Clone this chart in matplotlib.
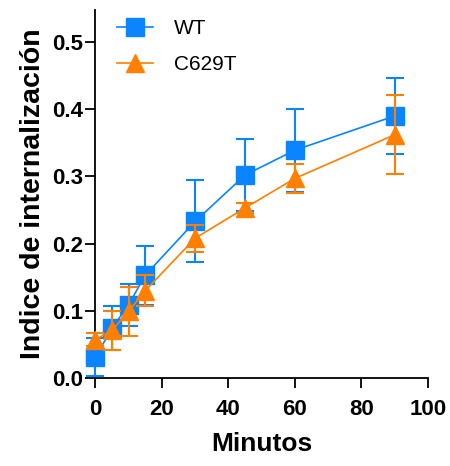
import numpy as np
import matplotlib
matplotlib.use("Agg")
import matplotlib.pyplot as plt

plt.rcParams['font.family'] = ['Liberation Sans', 'DejaVu Sans']

# Data
minutos = [0, 5, 10, 15, 30, 45, 60, 90]
wt_mean = [0.031, 0.074, 0.109, 0.153, 0.233, 0.302, 0.339, 0.390]
wt_err = [0.028, 0.033, 0.031, 0.044, 0.061, 0.054, 0.062, 0.057]
mut_mean = [0.057, 0.071, 0.099, 0.130, 0.208, 0.253, 0.297, 0.362]
mut_err = [0.010, 0.029, 0.036, 0.023, 0.020, 0.008, 0.021, 0.059]

blue = '#0a84ff'
orange = '#ff8000'

fig = plt.figure(figsize=(4.5, 4.66), dpi=100)
ax = fig.add_axes([0.212, 0.189, 0.739, 0.79])

ax.errorbar(minutos, wt_mean, yerr=wt_err, color=blue, marker='s', markersize=13.5,
            linewidth=1.2, elinewidth=1.5, capsize=6.5, capthick=1.5, label='WT',
            clip_on=False, zorder=3)
ax.errorbar(minutos, mut_mean, yerr=mut_err, color=orange, marker='^', markersize=13.5,
            linewidth=1.2, elinewidth=1.5, capsize=6.5, capthick=1.5, label='C629T',
            clip_on=False, zorder=4)

ax.set_xlim(0, 100)
ax.set_ylim(0, 0.548)
ax.set_xticks([0, 20, 40, 60, 80, 100])
ax.set_yticks([0.0, 0.1, 0.2, 0.3, 0.4, 0.5])
ax.set_yticklabels(['0.0', '0.1', '0.2', '0.3', '0.4', '0.5'])

for s in ['top', 'right']:
    ax.spines[s].set_visible(False)
for s in ['left', 'bottom']:
    ax.spines[s].set_linewidth(1.3)
ax.tick_params(direction='out', length=7, width=1.3, labelsize=16)
ax.tick_params(axis='x', pad=8)
ax.tick_params(axis='y', pad=2)
for lab in ax.get_xticklabels() + ax.get_yticklabels():
    lab.set_fontweight('bold')

ax.set_xlabel('Minutos', fontsize=19, fontweight='bold', labelpad=9)
ax.set_ylabel('Indice de internalización', fontsize=20.5, fontweight='bold', labelpad=4)

handles, labels = ax.get_legend_handles_labels()
handles = [h[0] for h in handles]
ax.legend(handles, labels, loc='upper left', bbox_to_anchor=(0.01, 1.025), frameon=False,
          fontsize=15, handlelength=1.7, handletextpad=1.0, labelspacing=0.8)

fig.savefig('out.png', dpi=100)
